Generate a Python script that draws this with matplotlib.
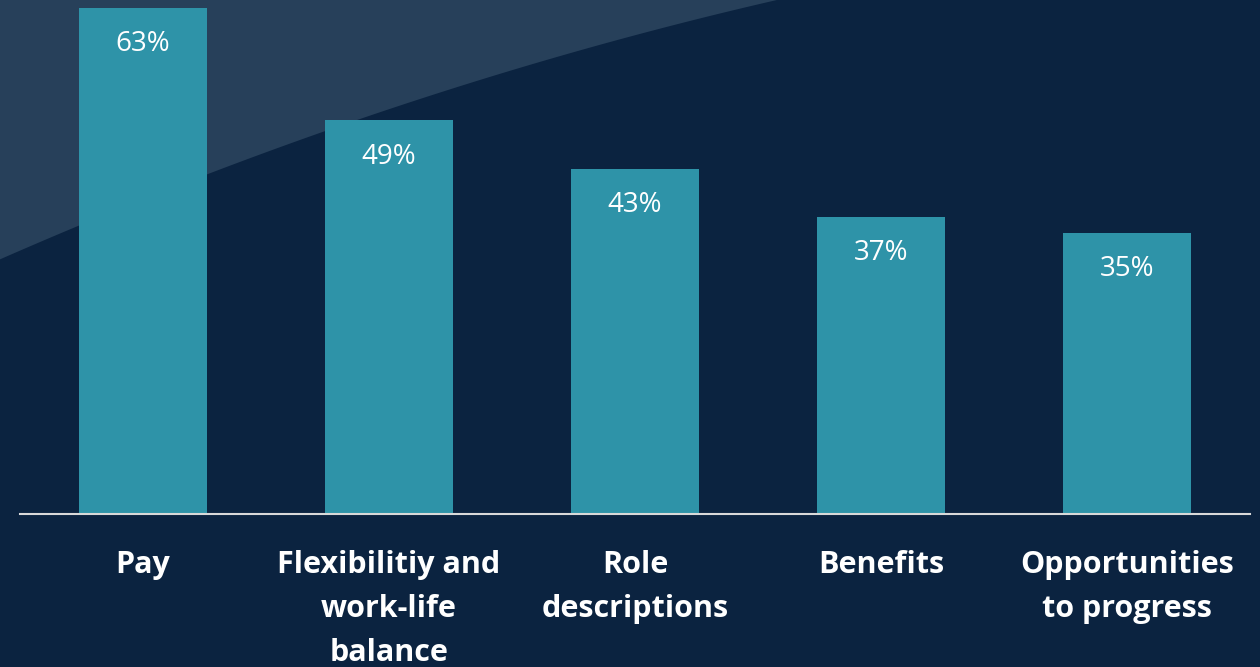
import numpy as np
import matplotlib.pyplot as plt
from matplotlib.patches import Polygon

# Data
categories = ['Pay', 'Flexibilitiy and\nwork-life\nbalance', 'Role\ndescriptions',
              'Benefits', 'Opportunities\nto progress']
values = [63, 49, 43, 37, 35]
value_labels = ['63%', '49%', '43%', '37%', '35%']

# Colours
bg = '#0B2340'
bg_light = '#27405A'
bar_col = '#2E93A8'

W, H = 1260, 667
fig = plt.figure(figsize=(W / 100, H / 100), dpi=100, facecolor=bg)

# Lighter curved shape in the top-left corner (decoration)
cx = np.array([0, 79, 207, 325, 420, 600, 778])
cy = np.array([258, 227, 175, 132, 97, 45, 0])
coef = np.polyfit(cx, cy, 2)
xs = np.linspace(0, 800, 100)
ys = np.polyval(coef, xs)
pts = [(x / W, 1 - y / H) for x, y in zip(xs, ys)]
pts += [(800 / W, 1.02), (0, 1.02)]
fig.add_artist(Polygon(pts, closed=True, facecolor=bg_light, edgecolor='none',
                       transform=fig.transFigure, zorder=0))

# Axes
ax = fig.add_axes([20 / W, (H - 514) / H, 1230 / W, 514 / H])
ax.patch.set_alpha(0)
x = np.arange(len(values))
ax.bar(x, values, width=0.52, color=bar_col, zorder=2)
ax.set_xlim(-0.5, 4.5)
ax.set_ylim(0, 64)

for s in ['top', 'right', 'left']:
    ax.spines[s].set_visible(False)
ax.spines['bottom'].set_color('#D9D9D9')
ax.spines['bottom'].set_linewidth(1.5)
ax.set_yticks([])
ax.set_xticks([])

# Value labels inside bars
for xi, v, lab in zip(x, values, value_labels):
    ax.annotate(lab, (xi, v), xytext=(0, -26), textcoords='offset points',
                ha='center', va='center', color='white', fontsize=20,
                family='Open Sans')

# Category labels below the axis
for xi, lab in zip(x, categories):
    ax.annotate(lab, (xi, 0), xytext=(0, -26), textcoords='offset points',
                ha='center', va='top', color='white', fontsize=22,
                fontweight='bold', family='Open Sans', linespacing=1.6,
                annotation_clip=False)

fig.savefig('out.png', dpi=100, facecolor=bg)
